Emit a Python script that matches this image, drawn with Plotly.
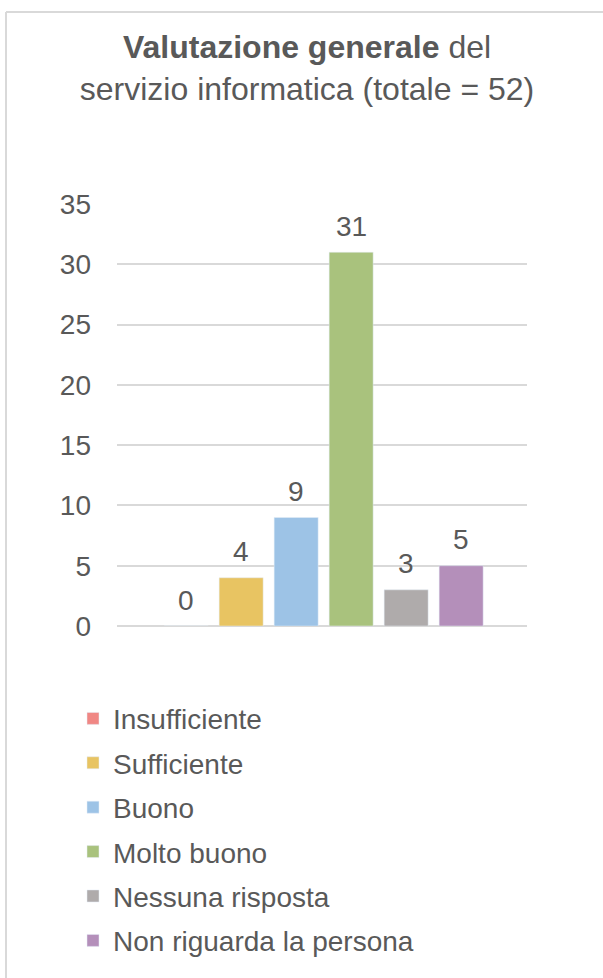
import plotly.graph_objects as go

categories = ["Insufficiente", "Sufficiente", "Buono", "Molto buono", "Nessuna risposta", "Non riguarda la persona"]
values = [0, 4, 9, 31, 3, 5]
colors = ["#F08784", "#E8C462", "#9DC3E6", "#A9C27D", "#AFABAB", "#B48FBA"]
y_ticks = [0, 5, 10, 15, 20, 25, 30, 35]

W, H = 603, 978
ML, MR, MT, MB = 117, 76, 204, 350
PW, PH = W - ML - MR, H - MT - MB

def px_x(p):
    return (p - ML) / PW

def px_y(p):
    return (H - MB - p) / PH

FONT = "Liberation Sans, Arial, sans-serif"
TXT = "#595959"

fig = go.Figure()
for i, (c, v, col) in enumerate(zip(categories, values, colors)):
    fig.add_trace(go.Bar(
        x=[c], y=[v], name=c, marker_color=col, width=0.8,
        legendgroup=f"g{i}", hoverinfo="skip",
    ))
    fig.add_annotation(
        x=c, y=v, text=str(v), showarrow=False, yanchor="middle", yshift=26,
        font=dict(family=FONT, size=28, color=TXT),
    )

fig.update_layout(
    width=W, height=H,
    margin=dict(l=ML, r=MR, t=MT, b=MB),
    paper_bgcolor="white", plot_bgcolor="white",
    barmode="overlay",
    font=dict(family=FONT, color=TXT, size=28),
    title=dict(
        text="<b>Valutazione generale</b> del<br>servizio informatica (totale = 52)",
        x=307 / W, xanchor="center", xref="container",
        y=1 - 58 / H, yanchor="top", yref="container",
        font=dict(family=FONT, size=32, color=TXT),
    ),
    showlegend=True,
    legend=dict(
        x=px_x(73), xanchor="left", y=px_y(696), yanchor="top",
        orientation="v", tracegroupgap=5,
        font=dict(family=FONT, size=28, color=TXT),
        bgcolor="rgba(0,0,0,0)",
    ),
    xaxis=dict(
        type="category", categoryorder="array", categoryarray=categories,
        range=[2.5 - PW / 55 / 2 - 0.03, 2.5 + PW / 55 / 2 - 0.03],
        showticklabels=False, showgrid=False, zeroline=False, showline=False, ticks="",
    ),
    yaxis=dict(
        range=[0, 35], tickvals=y_ticks, showgrid=True, gridcolor="#d9d9d9", gridwidth=1.5,
        zeroline=True, zerolinecolor="#d9d9d9", zerolinewidth=1.5,
        showline=False, ticks="", ticklabelstandoff=25,
        tickfont=dict(family=FONT, size=28, color=TXT),
    ),
    shapes=[
        dict(type="line", xref="paper", yref="paper", x0=px_x(6), x1=px_x(610), y0=px_y(11), y1=px_y(11),
             line=dict(color="#d9d9d9", width=2)),
        dict(type="line", xref="paper", yref="paper", x0=px_x(6), x1=px_x(6), y0=px_y(11), y1=px_y(990),
             line=dict(color="#d9d9d9", width=2)),
    ],
)

fig.write_html(
    "out.html",
    config={"displayModeBar": False},
    post_script="document.body.style.margin='0';document.body.style.overflow='hidden';",
)
